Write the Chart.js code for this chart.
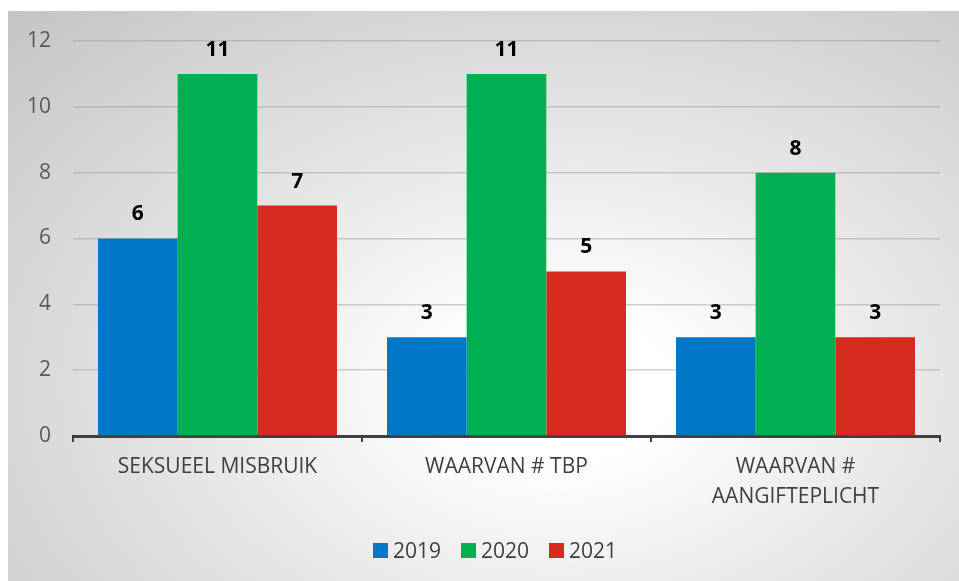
<!DOCTYPE html>
<html>
<head>
<meta charset="utf-8">
<script src="https://cdn.jsdelivr.net/npm/chart.js@4/dist/chart.umd.min.js"></script>
<style>
  html, body { margin: 0; padding: 0; background: #ffffff; width: 959px; height: 581px; overflow: hidden; }
  #box {
    position: absolute; left: 8px; top: 11px; width: 951px; height: 570px;
    background: radial-gradient(ellipse farthest-corner at 58% 66%, #ffffff 0%, #ffffff 14%, #e8e8e8 45%, #c4c4c4 100%);
  }
  canvas { display: block; position: absolute; left: 0; top: 0; }
  #legend {
    position: absolute; left: 365px; top: 527px; height: 24px;
    display: flex; align-items: center;
    font-family: 'Open Sans', 'DejaVu Sans', sans-serif; font-size: 21px; color: #404040;
  }
  .item { display: flex; align-items: center; margin-right: 20px; }
  .sw { width: 15px; height: 15px; margin-right: 5px; }
</style>
</head>
<body>
<div id="box"><canvas id="c" width="951" height="570"></canvas><div id="legend"></div></div>
<script>
const categories = ['SEKSUEEL MISBRUIK', 'WAARVAN # TBP', ['WAARVAN #', 'AANGIFTEPLICHT']];
const seriesNames = ['2019', '2020', '2021'];
const values2019 = [6, 3, 3];
const values2020 = [11, 11, 8];
const values2021 = [7, 5, 3];
const yTicks = [0, 2, 4, 6, 8, 10, 12];
const colors = ['#0177C8', '#00B050', '#D52A1F'];

const FONT = "'Open Sans', 'DejaVu Sans', sans-serif";

const valueLabels = {
  id: 'valueLabels',
  afterDatasetsDraw(chart) {
    const ctx = chart.ctx;
    ctx.save();
    ctx.font = 'bold 21px ' + FONT;
    ctx.fillStyle = '#000000';
    ctx.textAlign = 'center';
    ctx.textBaseline = 'middle';
    chart.data.datasets.forEach((ds, i) => {
      const meta = chart.getDatasetMeta(i);
      meta.data.forEach((bar, j) => {
        ctx.fillText(String(ds.data[j]), bar.x, bar.y - 24);
      });
    });
    ctx.restore();
  }
};

const chart = new Chart(document.getElementById('c'), {
  type: 'bar',
  data: {
    labels: categories,
    datasets: [
      { label: seriesNames[0], data: values2019, backgroundColor: colors[0] },
      { label: seriesNames[1], data: values2020, backgroundColor: colors[1] },
      { label: seriesNames[2], data: values2021, backgroundColor: colors[2] }
    ]
  },
  options: {
    responsive: false,
    animation: false,
    devicePixelRatio: 1,
    layout: { padding: { top: 30, right: 19, bottom: 54, left: 0 } },
    datasets: { bar: { categoryPercentage: 0.827, barPercentage: 1.0 } },
    plugins: {
      legend: { display: false },
      tooltip: { enabled: false }
    },
    scales: {
      x: {
        afterFit(scale) { scale.height = 91; scale.paddingLeft = 0; scale.paddingRight = 0; },
        grid: {
          display: true, drawOnChartArea: false, drawTicks: true,
          tickLength: 6, color: '#404040', lineWidth: 2
        },
        border: { display: true, color: '#404040', width: 3 },
        ticks: {
          color: '#404040', padding: 10,
          font: { family: FONT, size: 21, lineHeight: '30px' },
          maxRotation: 0, autoSkip: false
        }
      },
      y: {
        min: 0, max: 12,
        afterFit(scale) { scale.width = 65; scale.paddingTop = 0; scale.paddingBottom = 0; },
        afterBuildTicks(scale) { scale.ticks = yTicks.map(v => ({ value: v })); },
        grid: { color: 'rgba(150,150,150,0.45)', lineWidth: 1.5, drawTicks: false },
        border: { display: false },
        ticks: {
          color: '#595959', padding: 22,
          font: { family: FONT, size: 21 }
        }
      }
    }
  },
  plugins: [valueLabels]
});

// HTML legend built from the series arrays
const legend = document.getElementById('legend');
seriesNames.forEach((name, i) => {
  const item = document.createElement('div');
  item.className = 'item';
  const sw = document.createElement('span');
  sw.className = 'sw';
  sw.style.background = colors[i];
  const t = document.createElement('span');
  t.textContent = name;
  item.appendChild(sw);
  item.appendChild(t);
  legend.appendChild(item);
});
</script>
</body>
</html>
